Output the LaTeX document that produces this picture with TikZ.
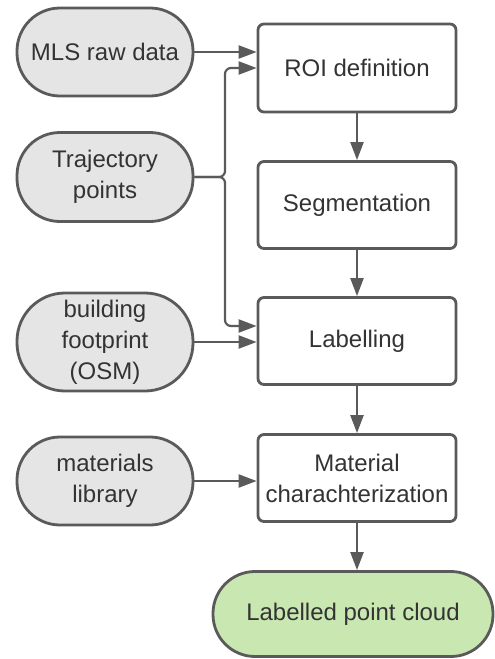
\documentclass[tikz,border=0pt]{standalone}
\usepackage{fontspec}
\setmainfont{Liberation Sans}
\usetikzlibrary{arrows.meta}
\definecolor{linec}{HTML}{5A5A5A}
\definecolor{greyfill}{HTML}{E5E5E5}
\definecolor{greenfill}{HTML}{C9E7B1}
\definecolor{textc}{HTML}{333333}
\begin{document}
\begin{tikzpicture}[x=1pt,y=-1pt,
  every node/.style={font=\fontsize{24}{31}\selectfont, text=textc, align=center, inner sep=0pt},
  pill/.style={draw=linec, line width=2.8pt, fill=greyfill, minimum width=176pt, rounded corners=43pt},
  procbox/.style={draw=linec, line width=2.8pt, fill=white, minimum width=198pt, minimum height=87pt, rounded corners=6pt},
  endpill/.style={draw=linec, line width=2.8pt, fill=greenfill, minimum width=280pt, minimum height=85pt, rounded corners=42pt},
  conn/.style={draw=linec, line width=2.2pt, -{Triangle[length=18pt,width=13pt]}}
]
\useasboundingbox (0,0) rectangle (495,659);
\node[pill, minimum height=88pt] (mls) at (105,52) {MLS raw data};
\node[pill, minimum height=89pt] (traj) at (105,177) {Trajectory\\points};
\node[pill, minimum height=98pt, rounded corners=48pt] (bld) at (105,342) {building\\footprint\\(OSM)};
\node[pill, minimum height=88pt] (mlib) at (105,481) {materials\\library};

\node[procbox, minimum height=88pt] (roi) at (357,68) {ROI definition};
\node[procbox] (seg) at (357,205) {Segmentation};
\node[procbox] (lab) at (357,341) {Labelling};
\node[procbox] (mch) at (357,478) {Material\\charachterization};
\node[endpill] (out) at (353,614) {Labelled point cloud};

\coordinate (bx) at (225,177);
\draw[conn] (mls.east) -- (mls.east -| roi.west);
\draw[conn, rounded corners=6pt] (traj.east) -- (bx) -- (bx |- 0,68) -- (roi.west |- 0,68);
\draw[conn, rounded corners=6pt] (traj.east) -- (bx) -- (bx |- 0,326) -- (lab.west |- 0,326);
\draw[conn] (bld.east) -- (bld.east -| lab.west);
\draw[conn] (mlib.east) -- (mlib.east -| mch.west);

\draw[conn] (roi.south) -- (seg.north);
\draw[conn] (seg.south) -- (lab.north);
\draw[conn] (lab.south) -- (mch.north);
\draw[conn] (mch.south) -- (mch.south |- out.north);
\end{tikzpicture}
\end{document}
